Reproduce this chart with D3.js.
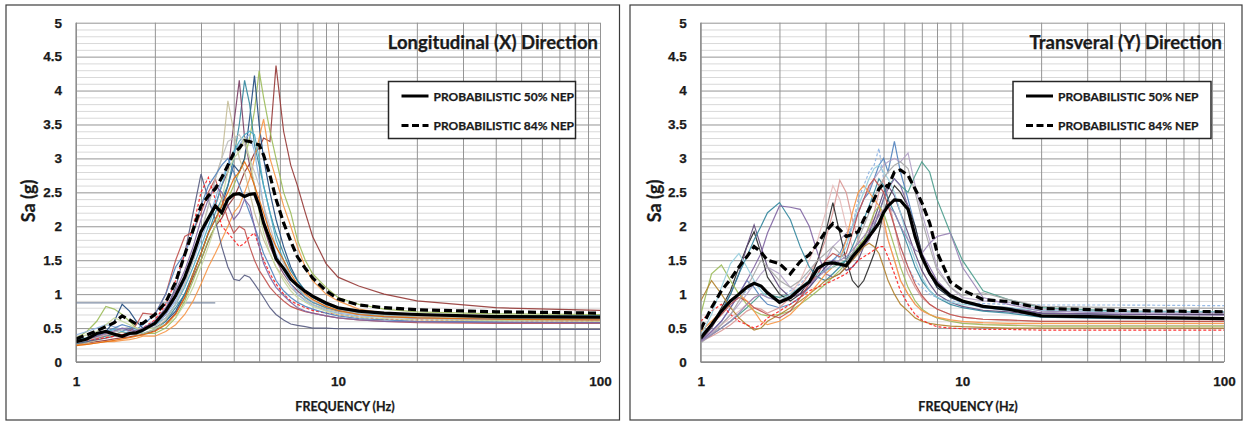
<!DOCTYPE html>
<meta charset="utf-8">
<style>
  body { margin: 0; background: #fff; }
  svg { display: block; font-family: Lato, "Open Sans", sans-serif; }
  .lbl { font-weight: 700; fill: #1a1a1a; stroke: #1a1a1a; stroke-width: 0.25px; }
</style>
<svg width="1243" height="421"></svg>
<script src="https://cdn.jsdelivr.net/npm/d3@7"></script>
<script>
// frequency grid (Hz) shared by every curve
var FREQ = [1.0,1.1,1.2,1.3,1.4,1.5,1.6,1.7,1.8,2.0, 2.2,2.4,2.6,2.8,3.0,3.2,3.4,3.6,3.8,4.0,
            4.2,4.4,4.6,4.8,5.0,5.2,5.5,5.8,6.2,6.6, 7.0,7.5,8.0,9.0,10,12,15,20,40,100];
var xTicks = [1, 10, 100];
var yTicks = [0, 0.5, 1, 1.5, 2, 2.5, 3, 3.5, 4, 4.5, 5];
var legendLabels = ["PROBABILISTIC 50% NEP", "PROBABILISTIC 84% NEP"];

// ---- Longitudinal (X) ----
var longP50 = [.30,.34,.42,.45,.41,.38,.42,.43,.47,.57, .75,.98,1.25,1.58,1.92,2.12,2.30,2.20,2.40,2.47,
               2.48,2.44,2.47,2.48,2.30,2.05,1.80,1.52,1.38,1.22, 1.13,1.04,.97,.87,.80,.75,.72,.70,.67,.66];
var longP84 = [.34,.40,.46,.52,.58,.68,.62,.56,.57,.70, .88,1.18,1.58,1.95,2.30,2.45,2.55,2.72,2.90,3.08,
               3.15,3.26,3.25,3.22,3.20,3.05,2.75,2.40,2.05,1.78, 1.55,1.38,1.24,1.05,.93,.84,.80,.77,.74,.72];
var lx01 = [.26,.28,.30,.32,.34,.36,.37,.39,.41,.46, .56,.72,.95,1.25,1.50,1.78,2.00,2.12,2.30,2.42,
            2.60,2.80,2.92,3.08,3.15,3.30,3.25,4.37,3.40,2.90, 2.60,2.20,1.85,1.45,1.25,1.12,1.00,.90,.80,.76];
var lx02 = [.35,.45,.60,.82,.78,.70,.60,.50,.42,.42, .50,.65,.90,1.20,1.50,1.80,2.00,2.20,2.40,2.60,
            2.80,3.00,3.30,3.70,4.29,3.90,3.40,3.00,2.50,2.20, 1.80,1.50,1.30,1.10,.95,.85,.78,.74,.71,.70];
var lx03 = [.28,.32,.38,.45,.60,.85,.75,.60,.50,.50, .60,.75,1.00,1.30,1.60,1.90,2.10,2.30,2.60,2.90,
            2.80,3.00,3.60,4.22,3.50,3.00,2.50,2.10,1.70,1.40, 1.20,1.05,.95,.85,.80,.75,.70,.68,.66,.65];
var lx04 = [.27,.30,.35,.38,.40,.45,.50,.45,.42,.48, .60,.80,1.00,1.30,1.60,1.90,2.20,2.40,2.60,3.00,
            3.50,4.15,3.80,3.20,2.90,2.60,2.20,1.90,1.60,1.35, 1.20,1.05,.95,.85,.78,.72,.68,.66,.64,.63];
var lx05 = [.30,.33,.36,.40,.44,.48,.46,.44,.48,.55, .70,.95,1.25,1.60,1.90,2.10,2.30,2.60,2.80,3.50,
            4.15,3.30,2.90,2.60,2.30,2.00,1.70,1.50,1.30,1.15, 1.05,.95,.88,.80,.75,.70,.67,.65,.63,.62];
var lx06 = [.25,.28,.32,.36,.40,.44,.42,.40,.42,.48, .62,.85,1.15,1.50,1.90,2.30,2.70,3.00,3.85,3.40,
            3.00,2.80,2.50,2.20,2.00,1.80,1.60,1.40,1.25,1.10, 1.00,.92,.85,.78,.74,.70,.68,.66,.65,.64];
var lx07 = [.25,.26,.28,.30,.30,.32,.33,.35,.38,.38, .45,.55,.70,.90,1.15,1.40,1.60,1.80,2.00,2.20,
            2.30,2.50,2.70,3.00,3.30,3.58,3.00,2.70,2.30,2.00, 1.70,1.40,1.20,1.00,.90,.78,.72,.68,.66,.65];
var lx08 = [.28,.30,.33,.35,.38,.40,.42,.45,.48,.55, .75,1.10,1.60,2.20,2.77,2.40,2.10,1.70,1.40,1.22,
            1.20,1.28,1.25,1.15,1.05,.95,.80,.70,.62,.56, .54,.52,.50,.50,.49,.49,.48,.48,.48,.48];
var lx09 = [.30,.33,.36,.40,.42,.40,.45,.55,.72,.70, 1.00,1.50,1.85,1.92,2.20,2.50,2.70,2.40,2.10,1.90,
            2.00,1.95,1.70,1.50,1.35,1.25,1.10,1.00,.90,.82, .78,.74,.72,.68,.65,.62,.60,.58,.57,.57];
var lx10 = [.30,.32,.34,.36,.38,.40,.42,.45,.50,.62, .85,1.20,1.60,2.00,2.50,2.72,2.40,2.00,1.90,1.80,
            1.70,1.75,1.85,1.90,1.70,1.50,1.30,1.15,1.00,.90, .85,.80,.76,.72,.70,.66,.63,.62,.61,.60];
var lx11 = [.40,.45,.50,.55,.52,.48,.45,.42,.45,.55, .70,.90,1.20,1.50,1.80,2.10,2.40,2.70,2.90,3.10,
            3.20,3.30,3.35,3.10,2.70,2.30,1.90,1.60,1.35,1.15, 1.00,.90,.84,.76,.72,.68,.66,.64,.62,.62];
var lx12 = [.32,.36,.40,.44,.48,.45,.42,.44,.48,.55, .65,.85,1.10,1.40,1.70,2.00,2.30,2.60,2.90,3.10,
            3.25,3.35,3.40,3.35,3.00,2.60,2.20,1.80,1.50,1.25, 1.10,.95,.88,.80,.76,.72,.70,.69,.68,.68];
var lx13 = [.28,.32,.36,.40,.44,.48,.52,.50,.48,.52, .65,.85,1.15,1.50,1.90,2.30,2.70,3.00,3.25,3.30,
            3.35,3.20,3.00,2.80,2.60,2.30,2.00,1.70,1.45,1.25, 1.10,.98,.90,.82,.77,.72,.70,.68,.67,.66];
var lx14 = [.30,.34,.40,.45,.50,.55,.52,.48,.55,.70, 1.00,1.40,1.60,1.90,2.30,2.60,2.75,2.90,3.00,2.80,
            2.60,2.40,2.20,2.00,1.80,1.60,1.40,1.20,1.05,.95, .88,.82,.78,.72,.68,.64,.62,.60,.59,.58];
var lx15 = [.35,.40,.45,.55,.65,.60,.55,.50,.48,.50, .55,.65,.85,1.10,1.40,1.70,2.00,2.40,2.80,3.00,
            3.10,3.30,3.00,2.60,2.20,1.90,1.60,1.40,1.20,1.05, .95,.88,.82,.75,.70,.66,.64,.62,.61,.60];
var lx16 = [.30,.34,.38,.42,.46,.50,.48,.46,.50,.60, .80,1.05,1.35,1.70,2.10,2.40,2.60,2.50,2.30,2.10,
            2.20,2.40,2.30,2.00,1.70,1.45,1.25,1.10,.98,.88, .80,.75,.72,.68,.65,.62,.60,.59,.58,.58];
var lx17 = [.24,.26,.28,.30,.32,.34,.36,.38,.40,.45, .55,.70,.95,1.30,1.60,1.90,2.10,2.30,2.50,2.70,
            2.80,2.95,2.80,2.60,2.40,2.20,1.90,1.70,1.50,1.30, 1.15,1.00,.92,.82,.76,.70,.67,.65,.63,.62];
var lx18 = [.87,.87,.87,.87,.87,.87,.87,.87,.87,.87, .87,.87,.87,.87,.87,.87,.87,null,null,null,
            null,null,null,null,null,null,null,null,null,null, null,null,null,null,null,null,null,null,null,null];
var longRecords = [lx18, lx01, lx02, lx03, lx04, lx05, lx06, lx07, lx08, lx09, lx10, lx11, lx12, lx13, lx14, lx15, lx16, lx17];
var longColors  = ["#6f7f99","#953735","#9bbb59","#1f497d","#31859c","#7a3e65","#c4bd97","#f79646","#555a80",
                   "#c0504d","#ff2020","#8db3e2","#4bacc6","#bfbfbf","#4f81bd","#c3d69b","#8064a2","#e46c0a"];
var longDashed  = [false,false,false,false,false,false,false,false,false,false,true,false,false,false,false,false,false,false];

// ---- Transveral (Y) ----
var tranP50 = [.35,.55,.75,.90,1.00,1.10,1.16,1.12,1.02,.88, .95,1.08,1.18,1.38,1.45,1.46,1.44,1.42,1.55,1.65,
               1.75,1.85,1.95,2.05,2.20,2.30,2.39,2.38,2.25,1.85, 1.55,1.31,1.15,.98,.90,.82,.78,.68,.66,.64];
var tranP84 = [.48,.80,1.05,1.22,1.40,1.55,1.70,1.62,1.50,1.45, 1.30,1.48,1.58,1.75,1.92,2.04,1.95,1.85,1.88,1.92,
               2.10,2.25,2.40,2.55,2.63,2.58,2.80,2.83,2.75,2.55, 2.35,2.05,1.62,1.18,1.06,.92,.89,.79,.76,.74];
var ty01 = [.30,.45,.60,.80,1.00,1.20,1.10,.95,.85,.80, .85,.95,1.10,1.25,1.40,1.50,1.60,1.80,2.00,2.20,
            2.40,2.50,2.70,2.90,3.00,2.80,3.25,2.80,2.40,2.00, 1.60,1.30,1.10,.95,.88,.80,.76,.72,.70,.70];
var ty02 = [.40,.55,.70,.85,.95,1.05,1.15,1.10,1.00,.95, 1.05,1.15,1.30,1.40,1.45,1.50,1.55,1.70,2.00,2.40,
            2.60,2.80,2.90,3.15,2.70,2.40,2.00,1.70,1.40,1.20, 1.10,1.00,.95,.90,.88,.86,.85,.84,.84,.83];
var ty03 = [.32,.42,.55,.70,.85,1.00,1.15,1.30,1.40,1.30, 1.10,1.00,1.10,1.30,1.50,1.70,1.80,1.90,2.00,2.20,
            2.40,2.55,2.70,2.80,2.90,2.95,3.00,2.95,3.08,2.60, 2.20,1.80,1.40,1.10,.95,.90,.88,.78,.75,.74];
var ty04 = [.30,.40,.50,.60,.70,.80,.90,1.00,1.00,.95, 1.00,1.10,1.20,1.30,1.35,1.40,1.45,1.50,1.60,1.70,
            1.80,1.90,2.00,2.20,2.40,2.60,2.70,2.60,2.50,2.75, 2.95,2.80,2.40,1.90,1.50,1.05,.92,.80,.75,.74];
var ty05 = [.35,.45,.55,.65,.75,.85,.95,1.00,.95,.90, 1.00,1.20,1.50,1.80,2.20,2.60,2.40,2.00,1.70,1.60,
            1.80,2.00,2.10,2.20,2.00,1.80,1.50,1.20,1.00,.85, .75,.70,.65,.60,.58,.56,.55,.54,.54,.54];
var ty06 = [.30,.38,.46,.55,.65,.75,.80,.78,.72,.80, .95,1.10,1.30,1.50,1.80,2.20,2.68,2.50,2.10,1.80,
            1.70,1.90,2.20,2.50,2.70,2.40,2.00,1.60,1.30,1.10, .95,.85,.78,.70,.66,.63,.61,.60,.60,.60];
var ty07 = [.35,.55,.80,1.05,1.40,1.70,1.92,1.60,1.25,1.00, .90,1.00,1.20,1.50,1.90,2.35,1.90,1.50,1.20,1.10,
            1.20,1.40,1.60,1.90,2.20,2.40,2.60,2.50,2.30,2.00, 1.60,1.30,1.10,.95,.88,.82,.80,.72,.70,.70];
var ty08 = [.32,.50,.75,1.00,1.30,1.70,2.02,1.70,1.40,1.10, .95,1.00,1.10,1.25,1.40,1.50,1.45,1.35,1.40,1.50,
            1.70,1.90,2.10,2.30,2.50,2.60,2.45,2.20,1.90,1.60, 1.35,1.15,1.00,.88,.82,.76,.74,.68,.66,.65];
var ty09 = [.38,.55,.75,1.00,1.30,1.55,1.80,2.00,2.20,2.35, 2.10,1.70,1.40,1.25,1.20,1.30,1.40,1.50,1.70,1.90,
            2.10,2.30,2.50,2.70,2.60,2.40,2.20,2.00,1.70,1.40, 1.20,1.05,.95,.85,.80,.75,.72,.66,.64,.63];
var ty10 = [.30,.45,.60,.80,1.00,1.20,1.40,1.60,1.90,2.30, 2.28,2.25,2.00,1.60,1.30,1.25,1.30,1.40,1.50,1.60,
            1.70,1.80,2.00,2.20,2.40,2.55,2.70,2.60,2.30,1.90, 1.60,1.40,1.20,1.00,.90,.82,.80,.72,.70,.69];
var ty11 = [.70,1.30,1.43,1.20,1.00,.85,.75,.70,.68,.70, .75,.85,.95,1.05,1.15,1.25,1.35,1.45,1.55,1.70,
            1.80,2.00,2.20,2.30,2.20,2.00,1.70,1.40,1.10,.90, .78,.70,.65,.60,.57,.55,.54,.53,.53,.53];
var ty12 = [.90,1.20,1.00,.80,.65,.55,.47,.50,.60,.70, .80,.90,1.00,1.10,1.20,1.25,1.30,1.40,1.50,1.60,
            1.70,1.75,1.70,1.60,1.40,1.20,1.00,.85,.75,.65, .60,.57,.55,.53,.52,.51,.50,.50,.50,.50];
var ty13 = [.60,.75,.85,.70,.60,.55,.50,.55,.65,.75, .85,.95,1.05,1.10,1.15,1.20,1.25,1.30,1.40,1.50,
            1.55,1.60,1.65,1.70,1.70,1.55,1.30,1.05,.85,.70, .62,.56,.52,.50,.49,.48,.48,.47,.47,.47];
var ty14 = [.40,.55,.70,.85,.95,.90,.80,.75,.70,.65, .75,.95,1.15,1.30,1.50,1.60,1.55,1.60,1.90,2.20,
            2.40,2.60,2.70,2.60,2.50,2.30,2.00,1.70,1.40,1.15, .98,.85,.78,.70,.66,.63,.62,.60,.60,.60];
var ty15 = [.45,.60,.75,.90,1.00,.90,.75,.60,.55,.60, .70,.85,1.00,1.15,1.30,1.40,1.50,1.80,2.20,2.50,
            2.60,2.50,2.40,2.30,2.10,1.80,1.50,1.20,1.00,.85, .76,.70,.66,.62,.60,.58,.57,.57,.57,.57];
var ty16 = [.38,.70,1.10,1.45,1.60,1.40,1.20,1.05,.95,.90, 1.00,1.10,1.20,1.30,1.35,1.40,1.50,1.70,2.00,2.30,
            2.50,2.70,2.85,2.90,2.80,2.70,2.50,2.20,1.80,1.50, 1.25,1.05,.95,.88,.85,.82,.80,.76,.74,.74];
var ty17 = [.28,.40,.55,.70,.90,1.10,1.30,1.50,1.40,1.20, 1.10,1.20,1.35,1.50,1.60,1.70,1.60,1.50,1.60,1.80,
            2.00,2.20,2.40,2.60,2.70,2.80,2.90,2.95,2.85,2.50, 2.10,1.70,1.35,1.10,.98,1.02,.92,.82,.80,.79];
var ty18 = [.30,.40,.50,.60,.72,.85,.95,1.00,.95,.90, .95,1.05,1.15,1.25,1.35,1.45,1.50,1.55,1.65,1.75,
            1.85,1.95,2.05,2.15,2.25,2.30,2.20,2.00,1.80,1.65, 1.60,1.75,1.85,1.90,1.40,.95,.85,.75,.72,.72];
var tranRecords = [ty01, ty02, ty03, ty04, ty05, ty06, ty07, ty08, ty09, ty10, ty11, ty12, ty13, ty14, ty15, ty16, ty17, ty18];
var tranColors  = ["#4f81bd","#8db3e2","#b2a2c7","#4a9c8c","#e6b9b8","#d99694","#262626","#5f497a","#31859c",
                   "#8064a2","#9bbb59","#b0802a","#ff2020","#c0504d","#f79646","#93cddd","#a6a6a6","#9983b5"];
var tranDashed  = [false,true,false,false,false,false,false,false,false,false,false,false,true,false,false,false,false,false];

var svg = d3.select("svg");

function drawPanel(p) {
  var g = svg.append("g");
  var w = p.right - p.left, h = p.bottom - p.top;

  g.append("rect")
    .attr("x", p.box[0]).attr("y", p.box[1]).attr("width", p.box[2]).attr("height", p.box[3])
    .attr("fill", "#fff").attr("stroke", "#3c3c3c").attr("stroke-width", 1.2);

  var x = d3.scaleLog().domain([1, 100]).range([p.left, p.right]);
  var y = d3.scaleLinear().domain([0, 5]).range([p.bottom, p.top]);

  var yMinor = d3.range(0, 51).map(function(i) { return i / 10; }).filter(function(v, i) { return i % 5 !== 0; });
  var xGrid = d3.range(1, 10).concat(d3.range(10, 101, 10));

  // minor horizontal grid
  g.append("g").attr("transform", "translate(" + p.left + ",0)")
    .call(d3.axisLeft(y).tickValues(yMinor).tickSize(-w).tickFormat(""))
    .call(function(s) { s.select(".domain").remove(); })
    .selectAll("line").attr("stroke", "#d9d9d9");
  // major horizontal grid
  g.append("g").attr("transform", "translate(" + p.left + ",0)")
    .call(d3.axisLeft(y).tickValues(yTicks).tickSize(-w).tickFormat(""))
    .call(function(s) { s.select(".domain").remove(); })
    .selectAll("line").attr("stroke", "#959595");
  // vertical grid
  g.append("g").attr("transform", "translate(0," + p.bottom + ")")
    .call(d3.axisBottom(x).tickValues(xGrid).tickSize(-h).tickFormat(""))
    .call(function(s) { s.select(".domain").remove(); })
    .selectAll("line").attr("stroke", "#959595");

  g.append("defs").append("clipPath").attr("id", p.id + "clip")
    .append("rect").attr("x", p.left).attr("y", p.top).attr("width", w).attr("height", h);

  var line = d3.line()
    .defined(function(d) { return d[1] != null; })
    .x(function(d) { return x(d[0]); })
    .y(function(d) { return y(d[1]); });

  function pairs(vals) { return FREQ.map(function(f, i) { return [f, vals[i]]; }); }

  var curves = g.append("g").attr("clip-path", "url(#" + p.id + "clip)");
  p.records.forEach(function(vals, i) {
    curves.append("path").datum(pairs(vals))
      .attr("d", line).attr("fill", "none")
      .attr("stroke", p.colors[i]).attr("stroke-width", 1.2)
      .attr("stroke-dasharray", p.dashed[i] ? "3,2" : null)
      .attr("stroke-opacity", 0.9);
  });
  curves.append("path").datum(pairs(p.p84))
    .attr("d", line).attr("fill", "none").attr("stroke", "#000")
    .attr("stroke-width", 3.2).attr("stroke-dasharray", "8,4");
  curves.append("path").datum(pairs(p.p50))
    .attr("d", line).attr("fill", "none").attr("stroke", "#000")
    .attr("stroke-width", 3.2);

  // axis lines
  g.append("line").attr("x1", p.left).attr("x2", p.left).attr("y1", p.top).attr("y2", p.bottom)
    .attr("stroke", "#8a8a8a").attr("stroke-width", 1.2);
  g.append("line").attr("x1", p.left).attr("x2", p.right).attr("y1", p.bottom).attr("y2", p.bottom)
    .attr("stroke", "#8a8a8a").attr("stroke-width", 1.5);

  // tick labels
  g.append("g").attr("transform", "translate(" + p.left + ",0)")
    .call(d3.axisLeft(y).tickValues(yTicks).tickSize(0).tickPadding(14).tickFormat(function(d) { return String(d); }))
    .call(function(s) { s.select(".domain").remove(); })
    .selectAll("text").attr("class", "lbl").style("font-size", "13.5px").attr("fill", "#1a1a1a");
  g.append("g").attr("transform", "translate(0," + p.bottom + ")")
    .call(d3.axisBottom(x).tickValues(xTicks).tickSize(0).tickPadding(14).tickFormat(function(d) { return String(d); }))
    .call(function(s) { s.select(".domain").remove(); })
    .selectAll("text").attr("class", "lbl").style("font-size", "13.5px").attr("fill", "#1a1a1a");

  // titles
  g.append("text").attr("class", "lbl").attr("x", p.xTitle[0]).attr("y", p.xTitle[1])
    .attr("text-anchor", "middle").style("font-size", "12.5px").text("FREQUENCY (Hz)");
  g.append("text").attr("class", "lbl")
    .attr("transform", "translate(" + p.yTitle[0] + "," + p.yTitle[1] + ") rotate(-90)")
    .attr("text-anchor", "middle").style("font-size", "18px").text("Sa (g)");
  g.append("text").attr("class", "lbl").attr("x", p.right - 2).attr("y", 49)
    .attr("text-anchor", "end").style("font-size", "18.5px").text(p.title);

  // legend
  var lg = g.append("g");
  lg.append("rect").attr("x", p.legend[0]).attr("y", 81.5).attr("width", p.legend[1]).attr("height", 57)
    .attr("fill", "#fff").attr("stroke", "#262626").attr("stroke-width", 1.5);
  legendLabels.forEach(function(txt, i) {
    var ly = 96 + i * 29.5;
    lg.append("line").attr("x1", p.legend[0] + 13).attr("x2", p.legend[0] + 40)
      .attr("y1", ly).attr("y2", ly).attr("stroke", "#000").attr("stroke-width", 3)
      .attr("stroke-dasharray", i === 1 ? "7,3.5" : null);
    lg.append("text").attr("class", "lbl").attr("x", p.legend[0] + 45).attr("y", ly + 4.5)
      .style("font-size", "12px").text(txt);
  });
}

drawPanel({ id: "long", box: [6, 5, 613.5, 415], left: 76, right: 600, top: 22.7, bottom: 362,
  title: "Longitudinal (X) Direction", records: longRecords, colors: longColors, dashed: longDashed,
  p50: longP50, p84: longP84, xTitle: [345, 411], yTitle: [35, 201], legend: [388.5, 187] });
drawPanel({ id: "tran", box: [630, 5, 612, 415], left: 700.7, right: 1224, top: 22.7, bottom: 362,
  title: "Transveral (Y) Direction", records: tranRecords, colors: tranColors, dashed: tranDashed,
  p50: tranP50, p84: tranP84, xTitle: [968, 411], yTitle: [661, 201], legend: [1013, 198] });
</script>
